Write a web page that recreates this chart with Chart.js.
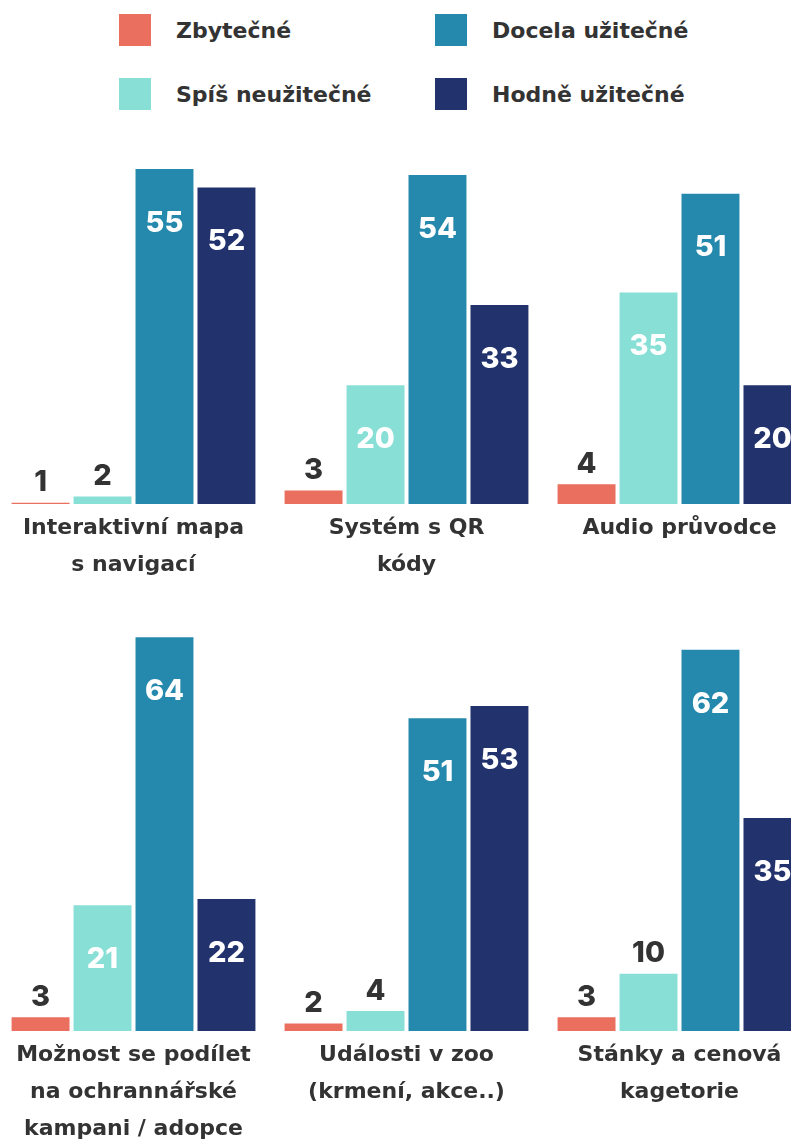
<!DOCTYPE html>
<html>
<head>
<meta charset="utf-8">
<script src="https://cdn.jsdelivr.net/npm/chart.js@4.4.0/dist/chart.umd.min.js"></script>
<style>
  body { margin: 0; width: 791px; height: 1142px; overflow: hidden; background: #fff; position: relative; font-family: "DejaVu Sans", sans-serif; }
  #legend { position: absolute; left: 119px; top: 14px; }
  .item { position: absolute; display: flex; align-items: center; font-size: 22px; font-weight: bold; color: #333; white-space: nowrap; }
  .sw { width: 32px; height: 32px; margin-right: 25px; }
  .box { position: absolute; left: -3px; }
</style>
</head>
<body>
<div id="legend"></div>
<div class="box" style="top:138px"><canvas id="topChart" width="819" height="452"></canvas></div>
<div class="box" style="top:600px"><canvas id="bottomChart" width="819" height="554"></canvas></div>
<script>
// series + categories
var seriesNames = ["Zbytečné", "Spíš neužitečné", "Docela užitečné", "Hodně užitečné"];
var seriesColors = ["#EB6F5E", "#88DFD6", "#2589AD", "#22326D"];

var topLabels = [["Interaktivní mapa", "s navigací"], ["Systém s QR", "kódy"], ["Audio průvodce"]];
var bottomLabels = [["Možnost se podílet", "na ochrannářské", "kampani / adopce"], ["Události v zoo", "(krmení, akce..)"], ["Stánky a cenová", "kagetorie"]];

// first 3 values = top row, last 3 = bottom row
var zbytecne = [1, 3, 4, 3, 2, 3];
var spisNeuzitecne = [2, 20, 35, 21, 4, 10];
var docelaUzitecne = [55, 54, 51, 64, 51, 62];
var hodneUzitecne = [52, 33, 20, 22, 53, 35];

var allSeries = [zbytecne, spisNeuzitecne, docelaUzitecne, hodneUzitecne];

// html legend, 2 columns
var legend = document.getElementById('legend');
seriesNames.forEach(function(name, i) {
  var col = Math.floor(i / 2), row = i % 2;
  var item = document.createElement('div');
  item.className = 'item';
  item.style.left = (col * 316) + 'px';
  item.style.top = (row * 64) + 'px';
  item.innerHTML = '<div class="sw" style="background:' + seriesColors[i] + '"></div><span>' + name + '</span>';
  legend.appendChild(item);
});

var valueLabels = {
  id: 'valueLabels',
  afterDatasetsDraw: function(chart) {
    var ctx = chart.ctx;
    ctx.save();
    ctx.font = '800 29px Inter, sans-serif';
    ctx.textAlign = 'center';
    ctx.textBaseline = 'middle';
    chart.data.datasets.forEach(function(ds, i) {
      chart.getDatasetMeta(i).data.forEach(function(bar, j) {
        var v = ds.data[j];
        if (v >= 15) {
          ctx.fillStyle = '#fff';
          ctx.fillText(v, bar.x, bar.y + 54);
        } else {
          ctx.fillStyle = '#333';
          ctx.fillText(v, bar.x, bar.y - 20);
        }
      });
    });
    ctx.restore();
  }
};

function makeChart(id, labels, from, yMax) {
  var datasets = allSeries.map(function(s, i) {
    return {
      label: seriesNames[i],
      data: s.slice(from, from + 3),
      backgroundColor: seriesColors[i],
      barPercentage: 0.935,
      categoryPercentage: 0.908
    };
  });
  return new Chart(document.getElementById(id).getContext('2d'), {
    type: 'bar',
    data: { labels: labels, datasets: datasets },
    options: {
      responsive: false,
      animation: false,
      layout: { padding: 0 },
      plugins: { legend: { display: false }, tooltip: { enabled: false } },
      scales: {
        x: {
          grid: { display: false, drawTicks: false },
          border: { display: false },
          ticks: {
            color: '#333',
            padding: 6,
            maxRotation: 0,
            autoSkip: false,
            font: { family: '"DejaVu Sans", sans-serif', size: 22, weight: 'bold', lineHeight: '37px' }
          }
        },
        y: { display: false, min: 0.8, max: yMax }
      }
    },
    plugins: [valueLabels]
  });
}

makeChart('topChart', topLabels, 0, 60);
makeChart('bottomChart', bottomLabels, 3, 70);
</script>
</body>
</html>
